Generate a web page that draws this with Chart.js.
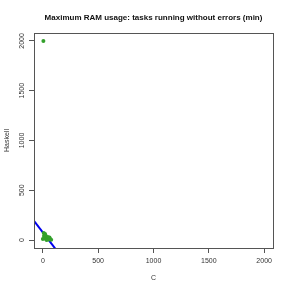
<!DOCTYPE html>
<html>
<head>
<meta charset="utf-8">
<script src="https://cdn.jsdelivr.net/npm/chart.js@4/dist/chart.umd.min.js"></script>
<style>
  html, body { margin: 0; padding: 0; background: #fff; }
  #wrap { width: 291px; height: 291px; }
</style>
</head>
<body>
<div id="wrap"><canvas id="chart"></canvas></div>
<script>
// C vs Haskell max RAM (scatter)
const cValues = [5, 0, 10, 20, 15, 30, 40, 55, 65, 75, 25, 35, 45, 8, 60];
const haskellValues = [2000, 10, 40, 60, 20, 5, 15, 5, 10, 2, 45, 0, 30, 70, 25];
// fitted line endpoints
const fitX = [-100, 150];
const fitY = [221, -141];
const xTicks = [0, 500, 1000, 1500, 2000];
const yTicks = [0, 500, 1000, 1500, 2000];
const titleText = 'Maximum RAM usage: tasks running without errors (min)';

const FONT = "'Liberation Sans', Arial, sans-serif";
const AXIS = '#555';

let pts = []
for (let i = 0; i < cValues.length; i++)
    pts.push({x: cValues[i], y: haskellValues[i]})
let fit = fitX.map((x, i) => ({x: x, y: fitY[i]}))

const boxPlugin = {
    id: 'box',
    afterDraw(chart) {
        const ctx = chart.ctx
        const a = chart.chartArea
        ctx.save()
        ctx.strokeStyle = AXIS
        ctx.lineWidth = 1
        ctx.strokeRect(Math.round(a.left) + 0.5, Math.round(a.top) + 0.5,
            Math.round(a.right - a.left), Math.round(a.bottom - a.top))
        // title centred over the plot region, like R
        ctx.fillStyle = '#111'
        ctx.font = 'bold 8px ' + FONT
        ctx.textAlign = 'center'
        ctx.textBaseline = 'middle'
        ctx.fillText(titleText, (a.left + a.right) / 2, 18)
        // rotated y tick labels like R
        const ys = chart.scales.y
        ctx.fillStyle = '#333'
        ctx.font = '7px ' + FONT
        yTicks.forEach(v => {
            const py = ys.getPixelForValue(v)
            ctx.save()
            ctx.translate(22, py)
            ctx.rotate(-Math.PI / 2)
            ctx.fillText(String(v), 0, 0)
            ctx.restore()
        })
        ctx.restore()
    }
}

new Chart(document.getElementById('chart').getContext('2d'), {
    type: 'scatter',
    data: {
        datasets: [{
            label: 'tasks',
            data: pts,
            backgroundColor: '#33a02c',
            borderColor: '#33a02c',
            pointRadius: 2,
            borderWidth: 0
        }, {
            label: 'fit',
            type: 'line',
            data: fit,
            borderColor: '#0000ee',
            borderWidth: 2,
            pointRadius: 0,
            fill: false
        }]
    },
    options: {
        responsive: true,
        maintainAspectRatio: false,
        animation: false,
        layout: { padding: { left: 0, right: 18, top: 33, bottom: 0 } },
        plugins: {
            legend: { display: false },
            tooltip: { enabled: false },
            title: { display: false }
        },
        scales: {
            x: {
                type: 'linear',
                min: -80, max: 2080,
                afterBuildTicks: s => { s.ticks = xTicks.map(v => ({value: v})) },
                afterFit: s => { s.height = 43 },
                grid: { drawOnChartArea: false, drawTicks: true, tickLength: 5, color: AXIS },
                border: { display: true, color: AXIS },
                ticks: { color: '#333', padding: 4, maxRotation: 0, font: { family: FONT, size: 7 }, callback: v => String(v) },
                title: { display: true, text: 'C', color: '#333', font: { family: FONT, size: 7 }, padding: { top: 0, bottom: 9 } }
            },
            y: {
                type: 'linear',
                min: -80, max: 2080,
                afterBuildTicks: s => { s.ticks = yTicks.map(v => ({value: v})) },
                afterFit: s => { s.width = 34 },
                grid: { drawOnChartArea: false, drawTicks: true, tickLength: 5, color: AXIS },
                border: { display: true, color: AXIS },
                ticks: { color: 'rgba(0,0,0,0)', font: { family: FONT, size: 7 } },
                title: { display: true, text: 'Haskell', color: '#333', font: { family: FONT, size: 7 }, padding: { top: 3, bottom: 0 } }
            }
        }
    },
    plugins: [boxPlugin]
})
</script>
</body>
</html>
